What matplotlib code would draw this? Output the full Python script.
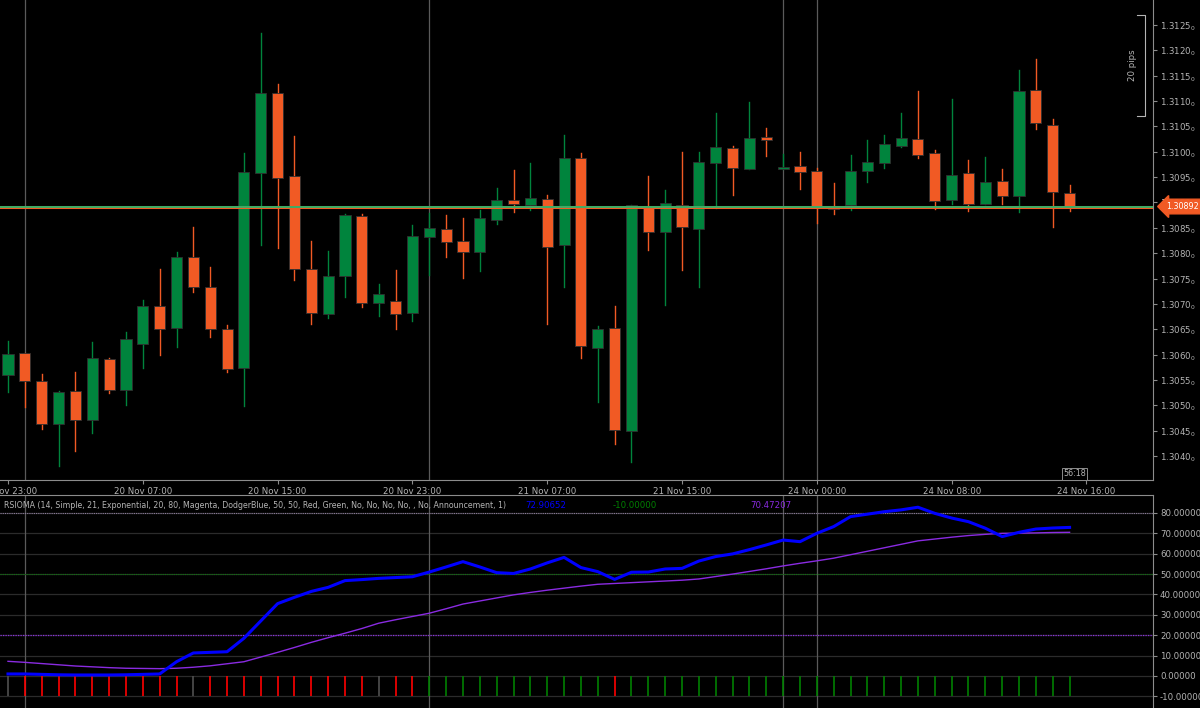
import numpy as np
import matplotlib
matplotlib.use('Agg')
import matplotlib.pyplot as plt
from matplotlib.patches import Rectangle

# ---------- données (bougies H1, EURUSD-like) ----------
opens = [1.30559, 1.30604, 1.30549, 1.30464, 1.30529, 1.30472, 1.30592, 1.30531, 1.30622, 1.30696,
         1.30653, 1.30793, 1.30734, 1.30651, 1.30574, 1.30958, 1.31116, 1.30953, 1.30769, 1.30681,
         1.30756, 1.30874, 1.30702, 1.30706, 1.30683, 1.30832, 1.30848, 1.30824, 1.30803, 1.30866,
         1.30905, 1.30895, 1.30907, 1.30817, 1.30988, 1.30614, 1.30653, 1.30450, 1.30891, 1.30842,
         1.30895, 1.30848, 1.30978, 1.31008, 1.30966, 1.31029, 1.30966, 1.30972, 1.30962, 1.30891,
         1.30895, 1.30962, 1.30978, 1.31012, 1.31025, 1.30998, 1.30905, 1.30958, 1.30897, 1.30943,
         1.30913, 1.31122, 1.31053, 1.30919]
highs = [1.30626, 1.30604, 1.30562, 1.30529, 1.30566, 1.30624, 1.30594, 1.30645, 1.30708, 1.30769,
         1.30803, 1.30852, 1.30773, 1.30659, 1.30998, 1.31234, 1.31134, 1.31031, 1.30824, 1.30805,
         1.30878, 1.30878, 1.30740, 1.30767, 1.30856, 1.30880, 1.30876, 1.30870, 1.30886, 1.30929,
         1.30964, 1.30978, 1.30915, 1.31033, 1.30998, 1.30657, 1.30696, 1.30895, 1.30953, 1.30925,
         1.31000, 1.31000, 1.31077, 1.31012, 1.31098, 1.31047, 1.30996, 1.31000, 1.30968, 1.30939,
         1.30994, 1.31023, 1.31033, 1.31077, 1.31120, 1.31004, 1.31104, 1.30984, 1.30990, 1.30966,
         1.31161, 1.31183, 1.31065, 1.30935]
lows = [1.30527, 1.30497, 1.30454, 1.30381, 1.30411, 1.30446, 1.30525, 1.30501, 1.30574, 1.30600,
        1.30616, 1.30724, 1.30635, 1.30566, 1.30499, 1.30817, 1.30811, 1.30748, 1.30661, 1.30673,
        1.30714, 1.30694, 1.30677, 1.30651, 1.30667, 1.30757, 1.30793, 1.30752, 1.30765, 1.30858,
        1.30882, 1.30886, 1.30661, 1.30734, 1.30594, 1.30507, 1.30423, 1.30389, 1.30807, 1.30698,
        1.30767, 1.30734, 1.30889, 1.30915, 1.30966, 1.30992, 1.30966, 1.30927, 1.30860, 1.30878,
        1.30886, 1.30941, 1.30968, 1.31010, 1.30988, 1.30888, 1.30897, 1.30884, 1.30897, 1.30897,
        1.30882, 1.31045, 1.30852, 1.30884]
closes = [1.30602, 1.30549, 1.30464, 1.30527, 1.30472, 1.30594, 1.30531, 1.30631, 1.30696, 1.30651,
          1.30793, 1.30734, 1.30651, 1.30572, 1.30960, 1.31116, 1.30949, 1.30769, 1.30683, 1.30756,
          1.30876, 1.30702, 1.30720, 1.30681, 1.30834, 1.30850, 1.30823, 1.30803, 1.30870, 1.30905,
          1.30897, 1.30909, 1.30813, 1.30988, 1.30618, 1.30651, 1.30452, 1.30895, 1.30842, 1.30899,
          1.30852, 1.30980, 1.31010, 1.30968, 1.31027, 1.31023, 1.30970, 1.30960, 1.30889, 1.30888,
          1.30962, 1.30980, 1.31016, 1.31027, 1.30994, 1.30903, 1.30954, 1.30897, 1.30941, 1.30913,
          1.31120, 1.31057, 1.30921, 1.30892]
last_price = 1.30892

rsi_ma = [1.0, 1.0, 0.8, 0.6, 0.5, 0.5, 0.5, 0.6, 0.8, 1.0,
          7.0, 11.3, 11.6, 11.9, 18.5, 27.0, 35.5, 38.6, 41.5, 43.5,
          46.8, 47.3, 47.9, 48.3, 48.7, 51.0, 53.5, 56.1, 53.5, 50.7,
          50.3, 52.5, 55.5, 58.2, 53.2, 51.2, 47.4, 50.9, 51.0, 52.5,
          52.8, 56.4, 58.6, 59.9, 62.0, 64.3, 66.7, 65.9, 70.0, 73.3,
          78.2, 79.4, 80.6, 81.5, 82.8, 79.8, 77.5, 75.7, 72.5, 68.4,
          70.5, 72.1, 72.6, 72.9]
rsi_signal = [7.2, 6.7, 6.1, 5.5, 4.9, 4.5, 4.1, 3.8, 3.7, 3.6,
              3.8, 4.3, 5.0, 6.0, 7.0, 9.3, 11.6, 14.0, 16.5, 18.8,
              21.0, 23.3, 25.9, 27.6, 29.2, 30.8, 33.0, 35.3, 36.8, 38.3,
              39.8, 41.0, 42.1, 43.1, 44.1, 45.0, 45.4, 45.8, 46.2, 46.6,
              47.0, 47.6, 48.8, 50.0, 51.3, 52.6, 54.0, 55.3, 56.5, 57.8,
              59.5, 61.2, 62.9, 64.6, 66.3, 67.2, 68.1, 68.9, 69.5, 70.0,
              70.1, 70.2, 70.4, 70.5]
# signal histogramme : 0 neutre, -1 baissier, 1 haussier
hist_sig = [0] + [-1] * 10 + [0] + [-1] * 10 + [0] + [-1] * 2 + [1] * 11 + [-1] + [1] * 27
hist_val = -10.0
ma_lab, hist_lab, sig_lab = '72.90652', '-10.00000', '70.47207'

tick_idx = [0, 8, 16, 24, 32, 40, 48, 56, 64]
tick_lab = ['19 Nov 23:00', '20 Nov 07:00', '20 Nov 15:00', '20 Nov 23:00', '21 Nov 07:00',
            '21 Nov 15:00', '24 Nov 00:00', '24 Nov 08:00', '24 Nov 16:00']
sep_idx = [1, 25, 46, 48]

# ---------- style ----------
BG = 'black'; GRN = '#00843d'; ORG = '#f15a24'; TXT = '#b4b4b4'; AX = '#8c8c8c'
plt.rcParams['font.family'] = ['DejaVu Sans']
FS = 6.2
W, H = 1200, 708
fig = plt.figure(figsize=(12, 7.08), dpi=100, facecolor=BG)
xr = 1153 / W
ax = fig.add_axes([0, 1 - 480 / H, xr, 480 / H], facecolor=BG)
ai = fig.add_axes([0, 0, xr, 213 / H], facecolor=BG)

n = len(opens)
xs = np.arange(n)
xlim = (-0.475, 67.95)

# ---------- prix ----------
for i in xs:
    o, h, l, c = opens[i], highs[i], lows[i], closes[i]
    col = GRN if c >= o else ORG
    ax.plot([i, i], [l, h], color=col, lw=1, zorder=2)
    b = max(abs(c - o), 0.000012)
    ax.add_patch(Rectangle((i - 0.33, min(o, c)), 0.66, b, facecolor=col,
                           edgecolor='#303030', lw=0.6, zorder=3))
for s in sep_idx:
    ax.axvline(s, color='#5a5a5a', lw=0.9, zorder=1)
    ai.axvline(s, color='#5a5a5a', lw=0.9, zorder=1)
ax.axhline(last_price, color=ORG, lw=2.2, zorder=4)
ax.axhline(last_price, color='#2fb36b', lw=1.3, zorder=5)
ax.set_xlim(*xlim)
ax.set_ylim(1.30353, 1.31299)
pt = np.arange(1.3040, 1.31251, 0.0005)
ax.yaxis.tick_right()
ax.set_yticks(pt)
ax.set_yticklabels([f'{v:.4f}$_0$' for v in pt])
ax.set_xticks(tick_idx)
ax.set_xticklabels(tick_lab)
ax.tick_params(colors=AX, labelcolor=TXT, labelsize=FS, length=3, pad=2)
for sp in ax.spines.values():
    sp.set_color(AX)
ax.spines['top'].set_visible(False); ax.spines['left'].set_visible(False)

# étiquette prix courant
ax.annotate(f'{last_price:.5f}', xy=(1.0, last_price), xycoords=('axes fraction', 'data'),
            xytext=(21, 0), textcoords='offset points', ha='center', va='center',
            fontsize=5.8, color='white', annotation_clip=False, zorder=20,
            bbox=dict(boxstyle='larrow,pad=0.35', fc=ORG, ec=ORG))
# règle 20 pips
ax.plot([67.0, 67.5, 67.5, 67.0], [1.31270, 1.31270, 1.31070, 1.31070],
        color=TXT, lw=0.8, clip_on=False)
ax.text(67.0, 1.31170, '20 pips', rotation=90, color=TXT, fontsize=FS,
        ha='right', va='center')
# minuterie
ax.text(63.3, 1.30365, '56:18', color=TXT, fontsize=5.8, ha='center', va='center',
        bbox=dict(boxstyle='square,pad=0.15', fc=BG, ec=AX, lw=0.7))

# ---------- RSIOMA ----------
for v in range(-10, 90, 10):
    ai.axhline(v, color='#2b2b2b', lw=0.9, zorder=0)
ai.axhline(80, color='#8a7a9a', lw=0.8, ls=(0, (1, 1)), zorder=1)
ai.axhline(50, color='#0a7a0a', lw=0.8, ls=(0, (1, 1)), zorder=1)
ai.axhline(20, color='#8a2be2', lw=0.9, ls=(0, (1, 1)), zorder=1)
hcol = {0: '#505050', -1: '#ff0000', 1: '#008000'}
ai.vlines(xs, hist_val, 0, colors=[hcol[s] for s in hist_sig], lw=1.2, zorder=2)
ai.plot(xs, rsi_signal, color='#8a2be2', lw=1, zorder=3)
ai.plot(xs, rsi_ma, color='#0000ff', lw=2.2, zorder=4)
ai.set_xlim(*xlim)
ai.set_ylim(-15.7, 88.8)
ai.yaxis.tick_right()
ai.set_yticks(range(-10, 90, 10))
ai.set_yticklabels([f'{v:.5f}' for v in range(-10, 90, 10)])
ai.set_xticks([])
ai.tick_params(colors=AX, labelcolor=TXT, labelsize=FS, length=3, pad=2)
for sp in ai.spines.values():
    sp.set_color(AX)
ai.spines['left'].set_visible(False); ai.spines['bottom'].set_visible(False)

ty = 1 - 505 / H
fig.text(4 / W, ty,
         'RSIOMA (14, Simple, 21, Exponential, 20, 80, Magenta, DodgerBlue, 50, 50, Red, Green, '
         'No, No, No, No, , No, Announcement, 1)', color=TXT, fontsize=5.7, va='center')
fig.text(525 / W, ty, ma_lab, color='#0000ff', fontsize=FS, va='center')
fig.text(613 / W, ty, hist_lab, color='#008000', fontsize=FS, va='center')
fig.text(750 / W, ty, sig_lab, color='#8a2be2', fontsize=FS, va='center')

fig.savefig('out.png', dpi=100, facecolor=BG)
